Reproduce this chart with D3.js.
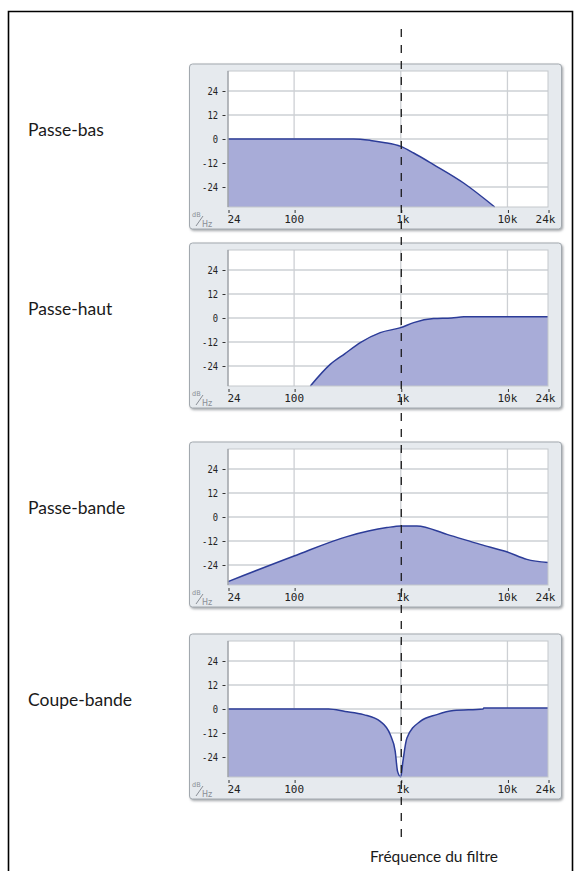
<!DOCTYPE html>
<html>
<head>
<meta charset="utf-8">
<script src="https://cdn.jsdelivr.net/npm/d3@7"></script>
<style>
  body { margin: 0; background: #fff; }
  svg { display: block; }
  .label { font-family: Lato, "Noto Sans", sans-serif; fill: #1a1a1a; }
  .tick { font-family: "DejaVu Sans Mono", monospace; font-size: 11px; fill: #222; }
  .unit { font-family: "DejaVu Sans", sans-serif; fill: #8a8f96; }
</style>
</head>
<body>
<script>
// filter names, left of each panel
var filterNames = ["Passe-bas", "Passe-haut", "Passe-bande", "Coupe-bande"];

// frequency response (Hz, dB)
var lowPassFreq  = [24, 100, 360, 520, 690, 1000, 1320, 2030, 3880, 7600];
var lowPassDb    = [0, 0, 0, -0.7, -1.7, -3.7, -7, -12.8, -22, -34];

var highPassFreq = [142, 218, 300, 417, 642, 1000, 1320, 2030, 3000, 3900, 24000];
var highPassDb   = [-34, -23.2, -17.8, -12.3, -7.3, -4.8, -2.3, -0.3, 0, 0.6, 0.6];

var bandPassFreq = [24, 100, 313, 741, 1000, 1416, 2710, 5560, 10000, 15200, 24000];
var bandPassDb   = [-32.3, -19.5, -9.8, -5.3, -4.5, -4.5, -8.7, -13.7, -17.5, -21.2, -22.8];

var notchFreq    = [24, 210, 301, 448, 642, 796, 887, 933, 1000, 1047, 1142, 1522, 2182, 3126, 5900, 6000, 24000];
var notchDb      = [0, 0, -1.2, -2.8, -6.2, -12.8, -21.2, -31.2, -34, -26.2, -14.5, -6.2, -2.8, -0.8, 0, 0.5, 0.5];

var xTicks = [24, 100, 1000, 10000, 24000];
var xTickLabels = ["24", "100", "1k", "10k", "24k"];
var yTicks = [24, 12, 0, -12, -24];

var cutoff = 1000;
var footLabel = "Fréquence du filtre";

var curves = [
    [lowPassFreq, lowPassDb],
    [highPassFreq, highPassDb],
    [bandPassFreq, bandPassDb],
    [notchFreq, notchDb]
];

var width = 580, height = 871;

var svg = d3.select("body").append("svg")
    .attr("width", width)
    .attr("height", height);

// outer frame
svg.append("path")
    .attr("d", "M8.5,871 L8.5,11.5 L572.5,11.5 L572.5,871")
    .attr("fill", "none")
    .attr("stroke", "#000")
    .attr("stroke-width", 1.6);

var plotLeft = 228, plotWidth = 320, plotHeight = 136;
var plotTops = [71, 250, 449, 641];

var x = d3.scaleLog()
    .domain([24, 24000])
    .range([plotLeft, plotLeft + plotWidth]);

var y = d3.scaleLinear()
    .domain([-34, 34])
    .range([plotHeight, 0]);

// label anchoring so each number sits under its tick like the original
function labelAnchor(i) {
    if (i === 0) return "start";
    return "middle";
}
function labelShift(i) {
    if (i === 0) return -0.5;
    if (i === xTicks.length - 1) return -2.5;
    if (i === 2) return 2;
    return 0;
}

var defs = svg.append("defs");
defs.append("filter")
    .attr("id", "shadow")
    .append("feDropShadow")
    .attr("dx", 1.2).attr("dy", 1.5)
    .attr("stdDeviation", 0.8)
    .attr("flood-color", "#7d8288")
    .attr("flood-opacity", 0.7);

curves.forEach(function (c, k) {
    var top = plotTops[k];
    var data = c[0].map(function (f, i) { return {f: f, db: c[1][i]}; });

    var g = svg.append("g")
        .attr("transform", "translate(0," + top + ")");

    // panel body
    g.append("rect")
        .attr("x", 189.5).attr("y", -7)
        .attr("width", 372).attr("height", plotHeight + 29)
        .attr("rx", 3)
        .attr("fill", "#e6eaee")
        .attr("stroke", "#a2a8ae")
        .attr("filter", "url(#shadow)");

    g.append("rect")
        .attr("x", plotLeft).attr("y", 0)
        .attr("width", plotWidth).attr("height", plotHeight)
        .attr("fill", "#fff");

    // grid
    g.selectAll(".hgrid")
        .data(yTicks)
        .enter().append("line")
        .attr("x1", plotLeft).attr("x2", plotLeft + plotWidth)
        .attr("y1", function (d) { return y(d); })
        .attr("y2", function (d) { return y(d); })
        .attr("stroke", "#cdd0d4")
        .attr("stroke-width", 1.3);

    g.selectAll(".vgrid")
        .data(xTicks.slice(1, 4))
        .enter().append("line")
        .attr("x1", function (d) { return x(d); })
        .attr("x2", function (d) { return x(d); })
        .attr("y1", 0).attr("y2", plotHeight)
        .attr("stroke", "#cdd0d4")
        .attr("stroke-width", 1.3);

    var area = d3.area()
        .x(function (d) { return x(d.f); })
        .y0(plotHeight)
        .y1(function (d) { return y(d.db); })
        .curve(d3.curveMonotoneX);

    var line = d3.line()
        .x(function (d) { return x(d.f); })
        .y(function (d) { return y(d.db); })
        .curve(d3.curveMonotoneX);

    g.append("path")
        .datum(data)
        .attr("d", area)
        .attr("fill", "#a8acd8");

    g.append("path")
        .datum(data)
        .attr("d", line)
        .attr("fill", "none")
        .attr("stroke", "#2c3c98")
        .attr("stroke-width", 1.5);

    // plot border
    g.append("rect")
        .attr("x", plotLeft).attr("y", 0)
        .attr("width", plotWidth).attr("height", plotHeight)
        .attr("fill", "none")
        .attr("stroke", "#c4c8cc")
        .attr("stroke-width", 1);
    g.append("line")
        .attr("x1", plotLeft).attr("x2", plotLeft)
        .attr("y1", 0).attr("y2", plotHeight)
        .attr("stroke", "#8c9096")
        .attr("stroke-width", 1);

    // y tick labels, narrow like the original bitmap font
    g.selectAll(".ylab")
        .data(yTicks)
        .enter().append("text")
        .attr("class", "tick")
        .attr("transform", function (d) {
            return "translate(" + (plotLeft - 10) + "," + (y(d) + 4) + ") scale(0.8,1)";
        })
        .attr("text-anchor", "end")
        .text(function (d) { return d; });

    g.selectAll(".ymark")
        .data(yTicks)
        .enter().append("line")
        .attr("x1", plotLeft - 5.5).attr("x2", plotLeft - 2.5)
        .attr("y1", function (d) { return y(d) + 0.5; })
        .attr("y2", function (d) { return y(d) + 0.5; })
        .attr("stroke", "#333")
        .attr("stroke-width", 1);

    // x tick marks and labels
    g.selectAll(".xtick")
        .data(xTicks)
        .enter().append("line")
        .attr("x1", function (d) { return x(d) + 1; })
        .attr("x2", function (d) { return x(d) + 1; })
        .attr("y1", plotHeight + 3).attr("y2", plotHeight + 6)
        .attr("stroke", "#333")
        .attr("stroke-width", 1);

    g.selectAll(".xlab")
        .data(xTicks)
        .enter().append("text")
        .attr("class", "tick")
        .attr("x", function (d, i) { return x(d) + labelShift(i); })
        .attr("y", plotHeight + 15.5)
        .attr("text-anchor", function (d, i) { return labelAnchor(i); })
        .text(function (d, i) { return xTickLabels[i]; });

    // dB/Hz unit mark
    var u = g.append("g").attr("transform", "translate(192," + (plotHeight + 5) + ")");
    u.append("text").attr("class", "unit").attr("x", 0).attr("y", 5).attr("font-size", 6.5).text("dB");
    u.append("line")
        .attr("x1", 4).attr("y1", 14)
        .attr("x2", 11).attr("y2", 4)
        .attr("stroke", "#8a8f96").attr("stroke-width", 1);
    u.append("text").attr("class", "unit").attr("x", 10).attr("y", 14.5).attr("font-size", 8).text("Hz");

    // filter name
    svg.append("text")
        .attr("class", "label")
        .attr("font-size", 17.5)
        .attr("x", 28)
        .attr("y", top + y(0) - 3)
        .text(filterNames[k]);
});

// cutoff frequency marker
svg.append("line")
    .attr("x1", x(cutoff) + 0.5).attr("x2", x(cutoff) + 0.5)
    .attr("y1", 29).attr("y2", 838)
    .attr("stroke", "#1a1a1a")
    .attr("stroke-width", 1.3)
    .attr("stroke-dasharray", "8,8");

svg.append("text")
    .attr("class", "label")
    .attr("font-size", 15.5)
    .attr("x", 434)
    .attr("y", 862)
    .attr("text-anchor", "middle")
    .text(footLabel);
</script>
</body>
</html>
